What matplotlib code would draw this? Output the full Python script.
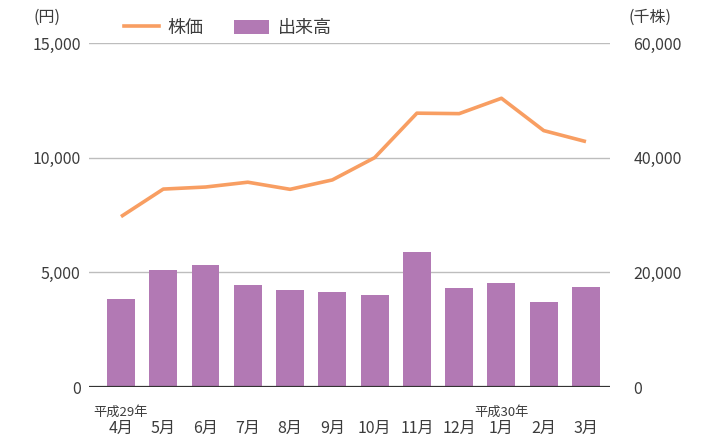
import numpy as np
import matplotlib.pyplot as plt
from matplotlib.lines import Line2D
from matplotlib.patches import Patch

plt.rcParams['font.family'] = ['Noto Sans CJK JP', 'DejaVu Sans']

months = ["4月", "5月", "6月", "7月", "8月", "9月", "10月", "11月", "12月", "1月", "2月", "3月"]
year_labels = {0: "平成29年", 9: "平成30年"}
price = [7430, 8630, 8720, 8930, 8620, 9030, 10000, 11940, 11920, 12590, 11180, 10700]  # 円
volume = [15390, 20470, 21350, 17840, 16960, 16610, 16090, 23630, 17320, 18190, 14860, 17490]  # 千株

line_col = "#F89E62"
bar_col = "#B279B4"
txt_col = "#3C3C3C"

fig = plt.figure(figsize=(7.01, 4.37), dpi=100)
ax = fig.add_axes([89/701, 1-387/437, 521/701, 344/437])
ax2 = ax.twinx()

x = np.arange(len(months))
ax2.bar(x, volume, width=0.66, color=bar_col, zorder=2)
ax.plot(x, price, color=line_col, lw=2.6, solid_capstyle="butt", zorder=3)

ax.set_zorder(ax2.get_zorder() + 1)
ax.patch.set_visible(False)

ax.set_xlim(-0.757, 11.568)
ax.set_ylim(0, 15000)
ax2.set_ylim(0, 60000)
ax.set_yticks([0, 5000, 10000, 15000])
ax2.set_yticks([0, 20000, 40000, 60000])
ax.set_yticklabels([f"{v:,}" for v in [0, 5000, 10000, 15000]])
ax2.set_yticklabels([f"{v:,}" for v in [0, 20000, 40000, 60000]])

for a in (ax, ax2):
    for s in a.spines.values():
        s.set_visible(False)
    a.tick_params(axis="y", length=0, labelsize=11.5, labelcolor=txt_col, pad=6)

ax2.tick_params(axis="y", pad=17)

# grid lines drawn on the bar axis so bars cover them
for v in [20000, 40000, 60000]:
    ax2.axhline(v, color="#BDBDBD", lw=1.0, zorder=1)
ax2.axhline(0, color="#333333", lw=1.6, zorder=3)

ax.set_xticks(x)
ax.set_xticklabels(months)
ax.tick_params(axis="x", length=0, labelsize=11.5, labelcolor=txt_col, pad=24)
for i, lab in year_labels.items():
    ax.annotate(lab, xy=(i, 0), xycoords=("data", "axes fraction"), xytext=(0, -18),
                textcoords="offset points", ha="center", va="center",
                fontsize=9.5, color=txt_col)

fig.text(47/701, 1-17/437, "(円)", ha="center", va="center", fontsize=11.5, color=txt_col)
fig.text(650/701, 1-17/437, "(千株)", ha="center", va="center", fontsize=11.5, color=txt_col)

handles = [Line2D([], [], color=line_col, lw=2.6),
           Patch(facecolor=bar_col, edgecolor="none")]
leg = fig.legend(handles, ["株価", "出来高"], loc="center left",
                 bbox_to_anchor=(108/701, 1-28/437), ncol=2, frameon=False,
                 fontsize=13, handlelength=1.9, handleheight=0.85,
                 columnspacing=1.7, handletextpad=0.5)
for t in leg.get_texts():
    t.set_color(txt_col)

fig.savefig("out.png", dpi=100)
